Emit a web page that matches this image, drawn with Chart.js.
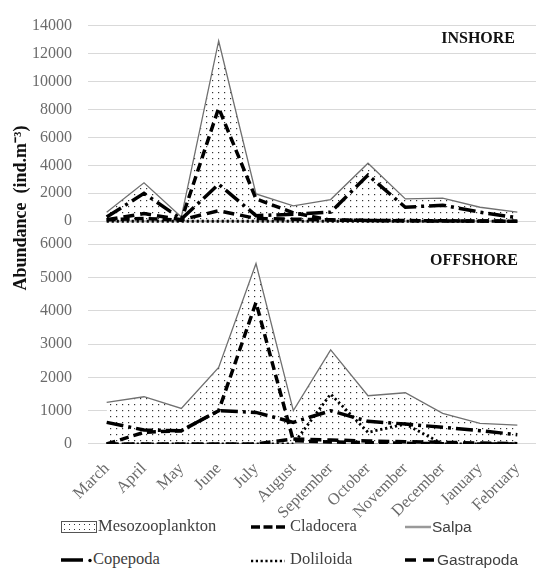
<!DOCTYPE html>
<html><head><meta charset="utf-8">
<script src="https://cdn.jsdelivr.net/npm/chart.js@4/dist/chart.umd.min.js"></script>
<style>
html,body{margin:0;padding:0;background:#fff;}
#wrap{position:relative;width:542px;height:570px;overflow:hidden;}
#c{position:absolute;left:0;top:0;}
.lg{position:absolute;font-family:"Liberation Serif","DejaVu Serif",serif;font-size:16.5px;color:#404040;white-space:nowrap;line-height:20px;}
.sans{font-family:"Liberation Sans",Arial,sans-serif;font-size:15.5px;}
.sw{position:absolute;}
#mesoBox{position:absolute;left:61px;top:521px;width:34px;height:10px;border:1px solid #555;
 background-color:#fff;background-image:radial-gradient(#333 0.8px, transparent 1px);background-size:5px 5px;}
</style></head><body>
<div id="wrap">
<canvas id="c" width="542" height="520"></canvas>
<div id="mesoBox"></div>
<div class="lg" style="left:98px;top:516px;">Mesozooplankton</div>
<svg class="sw" style="left:251px;top:521px;" width="35" height="12"><line x1="0" y1="6" x2="35" y2="6" stroke="#000" stroke-width="3.5" stroke-dasharray="9,3.5"/></svg>
<div class="lg" style="left:290px;top:516px;">Cladocera</div>
<svg class="sw" style="left:405px;top:521px;" width="26" height="12"><line x1="0" y1="6" x2="26" y2="6" stroke="#999" stroke-width="2.5"/></svg>
<div class="lg sans" style="left:432px;top:517px;">Salpa</div>
<svg class="sw" style="left:61px;top:554px;" width="34" height="12"><line x1="0" y1="6" x2="22" y2="6" stroke="#000" stroke-width="3.5"/><circle cx="29" cy="6.5" r="1.7" fill="#000"/></svg>
<div class="lg" style="left:93px;top:549px;">Copepoda</div>
<svg class="sw" style="left:251px;top:554px;" width="34" height="12"><line x1="0" y1="7" x2="34" y2="7" stroke="#000" stroke-width="2.6" stroke-dasharray="2.2,2.6"/></svg>
<div class="lg" style="left:290px;top:549px;">Doliloida</div>
<svg class="sw" style="left:405px;top:554px;" width="29" height="12"><line x1="0" y1="6" x2="29" y2="6" stroke="#000" stroke-width="3.5" stroke-dasharray="11,7"/></svg>
<div class="lg sans" style="left:437px;top:550px;">Gastrapoda</div>
</div>
<script>
const months = ['March','April','May','June','July','August','September','October','November','December','January','February'];
const inTicks = [0,2000,4000,6000,8000,10000,12000,14000];
const offTicks = [0,1000,2000,3000,4000,5000,6000];

// INSHORE
const inMeso = [650, 2750, 300, 12900, 1950, 1100, 1550, 4150, 1600, 1650, 1000, 650];
const inClad = [100, 200, 80, 8100, 1600, 600, 80, 60, 50, 30, 20, 0];
const inSalpa = [0, 0, 0, 0, 0, 0, 0, 0, 0, 0, 0, 0];
const inCope = [300, 2000, 150, 2650, 400, 500, 650, 3300, 1000, 1150, 650, 250];
const inDoli = [0, 0, 0, 0, 0, 0, 0, 0, 0, 0, 0, 0];
const inGast = [100, 550, 100, 750, 200, 150, 100, 50, 30, 20, 10, 0];

// OFFSHORE
const offMeso = [1250, 1420, 1070, 2300, 5420, 1000, 2830, 1450, 1540, 920, 620, 570];
const offClad = [0, 350, 400, 1000, 4250, 100, 60, 40, 20, 10, 0, 0];
const offSalpa = [0, 0, 0, 0, 0, 0, 0, 0, 0, 0, 0, 0];
const offCope = [650, 420, 400, 1000, 950, 650, 1000, 680, 600, 500, 400, 280];
const offDoli = [0, 0, 0, 0, 0, 0, 1500, 350, 600, 0, 0, 0];
const offGast = [0, 0, 0, 0, 0, 150, 120, 90, 70, 50, 30, 10];

// dotted fill pattern
const pc = document.createElement('canvas');
pc.width = 6; pc.height = 6;
const pctx = pc.getContext('2d');
pctx.fillStyle = '#ffffff'; pctx.fillRect(0,0,6,6);
pctx.fillStyle = '#333333'; pctx.fillRect(2,2,1.2,1.2);
const dotPattern = document.getElementById('c').getContext('2d').createPattern(pc, 'repeat');

const styles = {
  meso: {borderColor:'#707070', borderWidth:1.3, backgroundColor:dotPattern, fill:'origin', order:10},
  clad: {borderColor:'#000', borderWidth:3.5, borderDash:[9,5], fill:false, order:1},
  salpa:{borderColor:'#a6a6a6', borderWidth:2, fill:false, order:3},
  cope: {borderColor:'#000', borderWidth:3.5, borderDash:[17,5,3,5], fill:false, order:0},
  doli: {borderColor:'#000', borderWidth:2.8, borderDash:[2.2,2.8], fill:false, order:2},
  gast: {borderColor:'#000', borderWidth:3.5, borderDash:[11,6], fill:false, order:1}
};
function ds(label, data, axis, st){
  return Object.assign({label, data, yAxisID:axis, pointRadius:0, tension:0, borderCapStyle:'butt'}, styles[st]);
}
const datasets = [
  ds('Mesozooplankton', inMeso, 'yIn', 'meso'),
  ds('Cladocera', inClad, 'yIn', 'clad'),
  ds('Salpa', inSalpa, 'yIn', 'salpa'),
  ds('Copepoda', inCope, 'yIn', 'cope'),
  ds('Doliloida', inDoli, 'yIn', 'doli'),
  ds('Gastrapoda', inGast, 'yIn', 'gast'),
  ds('Mesozooplankton', offMeso, 'yOff', 'meso'),
  ds('Cladocera', offClad, 'yOff', 'clad'),
  ds('Salpa', offSalpa, 'yOff', 'salpa'),
  ds('Copepoda', offCope, 'yOff', 'cope'),
  ds('Doliloida', offDoli, 'yOff', 'doli'),
  ds('Gastrapoda', offGast, 'yOff', 'gast')
];

const tickFont = {family:'"Liberation Serif","DejaVu Serif",serif', size:16};
const textPlugin = {
  id:'txt',
  afterDraw(chart){
    const ctx = chart.ctx, a = chart.chartArea, yi = chart.scales.yIn, yo = chart.scales.yOff;
    ctx.save();
    ctx.fillStyle = '#111';
    ctx.font = 'bold 16px "Liberation Serif"';
    ctx.textAlign = 'right'; ctx.textBaseline = 'middle';
    ctx.fillText('INSHORE', a.right - 21, yi.getPixelForValue(14000) + 13);
    ctx.fillText('OFFSHORE', a.right - 18, yo.top + 17);
    ctx.translate(21, 208);
    ctx.rotate(-Math.PI/2);
    ctx.textAlign = 'center';
    ctx.font = 'bold 18px "Liberation Serif"';
    ctx.fillText('Abundance  (ind.m\u207B\u00B3)', 0, 0);
    ctx.restore();
  }
};

const yTicks = {padding:16, color:'#6b6b6b', font:tickFont, autoSkip:false, callback:(v) => String(v)};

new Chart(document.getElementById('c'), {
  type:'line',
  data:{labels:months, datasets},
  options:{
    responsive:false, animation:false, devicePixelRatio:1,
    layout:{padding:{top:25, right:6, left:0, bottom:0}},
    plugins:{legend:{display:false}, tooltip:{enabled:false}},
    scales:{
      x:{type:'category', offset:true, grid:{display:false}, border:{display:false},
        ticks:{maxRotation:45, minRotation:45, autoSkip:false, padding:7, color:'#6b6b6b',
          font:{family:'"Liberation Serif","DejaVu Serif",serif', size:16.5}},
        afterFit(s){ s.height = 76; }},
      yOff:{type:'linear', position:'left', stack:'p', stackWeight:200, min:0, max:6000,
        afterBuildTicks(s){ s.ticks = offTicks.map(v => ({value:v})); },
        grid:{color:'#d9d9d9', drawTicks:false}, border:{display:false},
        ticks:yTicks,
        afterFit(s){ s.width = 88; }},
      yIn:{type:'linear', position:'left', stack:'p', stackWeight:219, min:-1650, max:14000,
        afterBuildTicks(s){ s.ticks = inTicks.map(v => ({value:v})); },
        grid:{color:'#d9d9d9', drawTicks:false}, border:{display:false},
        ticks:yTicks,
        afterFit(s){ s.width = 88; }}
    }
  },
  plugins:[textPlugin]
});
</script>
</body></html>
